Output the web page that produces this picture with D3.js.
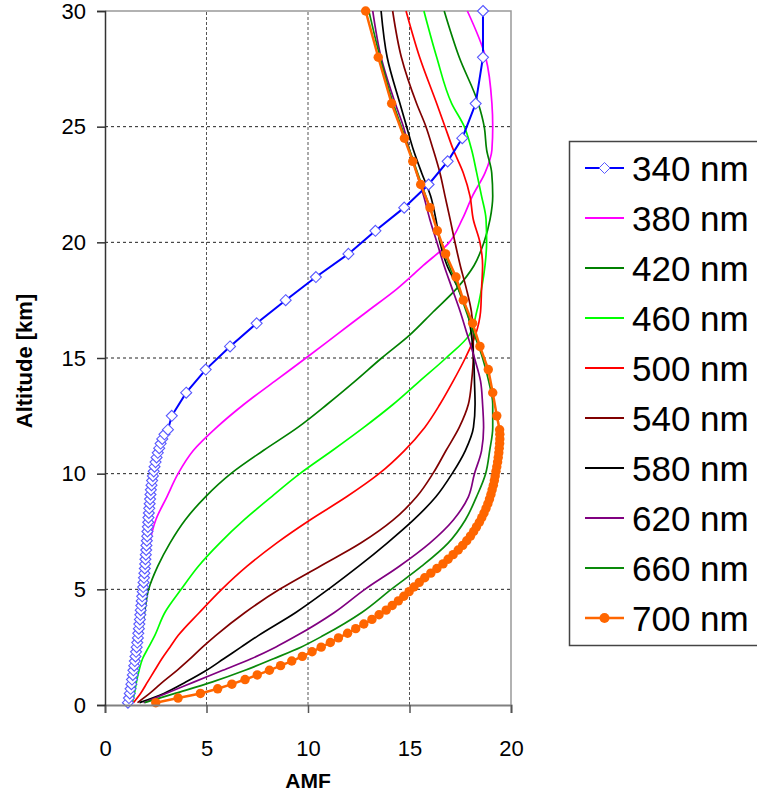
<!DOCTYPE html>
<html><head><meta charset="utf-8">
<script src="https://cdnjs.cloudflare.com/ajax/libs/d3/7.8.5/d3.min.js"></script>
<style>body{margin:0;background:#fff}svg{display:block}text{font-family:Arial,"Liberation Sans",sans-serif}</style>
</head><body>
<script>
// ---------- DATA ----------
const seriesNames = ["340 nm","380 nm","420 nm","460 nm","500 nm","540 nm","580 nm","620 nm","660 nm","700 nm"];
const xTicks = [0,5,10,15,20];
const yTicks = [0,5,10,15,20,25,30];

// altitude grid of the marker series (km)
const altMarker = [0.1,0.3,0.5,0.7,0.9,1.1,1.3,1.5,1.7,1.9,2.1,2.3,2.5,2.7,2.9,3.1,3.3,3.5,3.7,3.9,
  4.1,4.3,4.5,4.7,4.9,5.1,5.3,5.5,5.7,5.9,6.1,6.3,6.5,6.7,6.9,7.1,7.3,7.5,7.7,7.9,
  8.1,8.3,8.5,8.7,8.9,9.1,9.3,9.5,9.7,9.9,10.1,10.3,10.5,10.7,10.9,11.1,11.3,11.5,11.7,11.9,
  12.5,13.5,14.5,15.5,16.5,17.5,18.5,19.5,20.5,21.5,22.5,23.5,24.5,26,28,30];
// altitude grid used for the plain line series (km)
const altLine = [0.1,0.5,1,1.5,2,2.5,3,4,5,6,7,8,9,10,11,12,13,14,15,16,17,18,19,20,21,22,23,24,25,26,28,30];

const amf340 = [1.13,1.18,1.22,1.26,1.30,1.33,1.37,1.40,1.44,1.47,1.50,1.53,1.56,1.59,1.62,1.64,1.67,1.69,1.72,1.74,
  1.76,1.79,1.81,1.83,1.86,1.88,1.90,1.92,1.94,1.96,1.98,1.99,2.01,2.03,2.04,2.06,2.08,2.09,2.11,2.13,
  2.14,2.16,2.18,2.20,2.22,2.24,2.26,2.29,2.32,2.36,2.40,2.44,2.49,2.54,2.60,2.67,2.74,2.82,2.93,3.10,
  3.29,4.00,4.96,6.16,7.47,8.90,10.39,11.99,13.32,14.74,15.94,16.88,17.60,18.26,18.62,18.62];
const amf700 = [2.5,3.6,4.7,5.55,6.25,6.9,7.5,8.1,8.65,9.2,9.72,10.2,10.65,11.1,11.5,11.95,12.35,12.75,13.15,13.5,
  13.85,14.15,14.45,14.72,14.98,15.22,15.48,15.75,16.05,16.35,16.65,16.9,17.15,17.4,17.62,17.82,18.0,18.16,18.3,18.44,
  18.56,18.67,18.77,18.86,18.94,19.01,19.07,19.13,19.18,19.22,19.26,19.3,19.34,19.37,19.4,19.42,19.44,19.45,19.45,19.44,
  19.3,19.1,18.88,18.47,18.11,17.65,17.29,16.78,16.37,16.01,15.55,15.16,14.75,14.12,13.46,12.84];

const amf380 = [1.2,1.3,1.4,1.48,1.56,1.63,1.7,1.82,1.95,2.05,2.2,2.5,3.05,3.6,4.35,5.5,6.85,8.37,9.9,11.4,12.9,14.4,15.68,16.96,17.6,18.1,18.72,19.06,19.1,19.06,18.75,17.85];
const amf420 = [1.3,1.38,1.47,1.55,1.63,1.7,1.78,1.95,2.15,2.6,3.2,3.95,4.95,6.2,7.8,9.5,10.95,12.32,13.63,15.02,16.17,17.32,18.18,18.67,18.97,19.1,19.05,18.8,18.68,18.39,17.45,16.71];
const amf460 = [1.35,1.45,1.55,1.68,1.85,2.15,2.45,2.95,3.75,4.6,5.65,6.85,8.2,9.6,11.2,12.75,14.2,15.5,16.8,17.95,18.31,18.55,18.72,18.8,18.77,18.55,18.31,18.06,17.7,17.08,16.34,15.71];
const amf500 = [1.4,1.75,2.1,2.45,2.8,3.2,3.6,4.65,5.75,7.0,8.45,10.1,11.9,13.5,14.75,15.75,16.5,17.15,17.75,18.25,18.5,18.55,18.6,18.47,18.14,17.98,17.65,17.16,16.75,16.34,15.5,14.83];
const amf540 = [1.6,2.2,2.85,3.55,4.2,4.8,5.45,6.9,8.6,10.6,12.6,14.2,15.35,16.15,16.8,17.45,17.9,18.06,18.14,18.14,18.05,17.8,17.5,17.24,17.0,16.75,16.5,16.17,15.81,15.35,14.6,14.17];
const amf580 = [1.7,2.9,4.0,5.0,5.85,6.7,7.55,9.4,11.0,12.5,13.9,15.2,16.3,17.1,17.75,18.15,18.23,18.2,18.16,18.05,17.85,17.4,16.85,16.5,16.3,16.04,15.6,15.19,14.86,14.53,13.9,13.6];
const amf620 = [1.9,3.0,4.4,5.8,7.2,8.4,9.45,11.3,12.8,14.5,16.0,17.16,17.9,18.2,18.55,18.65,18.6,18.5,18.2,17.85,17.5,17.1,16.7,16.35,16.0,15.7,15.35,15.0,14.7,14.3,13.6,13.19];
const amf660 = [1.95,3.45,5.3,6.9,8.3,9.65,10.75,12.65,14.1,15.6,16.9,17.75,18.3,18.75,18.95,19.1,19.1,18.9,18.6,18.2,17.8,17.4,16.95,16.55,16.2,15.8,15.4,15.0,14.6,14.2,13.55,13.0];

const colors = ["#0000FF","#FF00FF","#008000","#00FF00","#FF0000","#800000","#000000","#800080","#0A8A0A","#FF6600"];

// ---------- CHART ----------
const W = 757, H = 794;
const svg = d3.select("body").append("svg").attr("width", W).attr("height", H);
const x = d3.scaleLinear().domain([0, 20]).range([105, 511]);
const y = d3.scaleLinear().domain([0, 30]).range([705, 11]);

// grid
const g = svg.append("g");
g.selectAll(".hg").data(yTicks.filter(t => t > 0 && t < 30)).join("line")
  .attr("x1", x(0)).attr("x2", x(20)).attr("y1", d => y(d)).attr("y2", d => y(d))
  .attr("stroke", "#222").attr("stroke-width", 1).attr("stroke-dasharray", "3,3");
g.selectAll(".vg").data(xTicks.filter(t => t > 0 && t < 20)).join("line")
  .attr("y1", y(0)).attr("y2", y(30)).attr("x1", d => x(d)).attr("x2", d => x(d))
  .attr("stroke", "#555").attr("stroke-width", 1).attr("stroke-dasharray", "3,2");
// top & right border
svg.append("path").attr("d", `M${x(0)},${y(30)}H${x(20)}V${y(0)}`)
  .attr("fill", "none").attr("stroke", "#999").attr("stroke-width", 1.5);

const lineGen = d3.line().x(d => x(d[1])).y(d => y(d[0]));
const plain = [[amf380,1],[amf420,2],[amf460,3],[amf500,4],[amf540,5],[amf580,6],[amf620,7],[amf660,8]];
const lines = svg.append("g");
plain.forEach(([vals, ci]) => {
  const pts = altLine.map((a, i) => [a, vals[i]]);
  lines.append("path").attr("d", lineGen.curve(d3.curveMonotoneY)(pts))
    .attr("fill", "none").attr("stroke", colors[ci]).attr("stroke-width", 1.7);
});
lineGen.curve(d3.curveLinear);

// 340 nm with diamonds
const p340 = altMarker.map((a, i) => [a, amf340[i]]);
svg.append("path").attr("d", lineGen(p340)).attr("fill", "none").attr("stroke", colors[0]).attr("stroke-width", 2);
const diamond = "M0,-5.5L5.5,0L0,5.5L-5.5,0Z";
svg.append("g").selectAll("path").data(p340).join("path")
  .attr("transform", d => `translate(${x(d[1])},${y(d[0])})`).attr("d", diamond)
  .attr("fill", "#fff").attr("stroke", "#5858FF").attr("stroke-width", 1.1);

// 700 nm with circles
const p700 = altMarker.map((a, i) => [a, amf700[i]]);
svg.append("path").attr("d", lineGen(p700)).attr("fill", "none").attr("stroke", colors[9]).attr("stroke-width", 2.5);
svg.append("g").selectAll("circle").data(p700).join("circle")
  .attr("cx", d => x(d[1])).attr("cy", d => y(d[0])).attr("r", 4.7).attr("fill", colors[9]);

// axes
const xAxis = svg.append("g").attr("transform", `translate(0,${y(0)})`)
  .call(d3.axisBottom(x).tickValues(xTicks).tickSize(8).tickPadding(27).tickFormat(d3.format("d")));
xAxis.select(".domain").attr("stroke", "#808080").attr("stroke-width", 2);
xAxis.selectAll(".tick line").attr("stroke", "#555").attr("stroke-width", 1.5);
xAxis.selectAll("text").attr("font-size", 22).attr("fill", "#000").attr("font-family", "Arial, 'Liberation Sans', sans-serif");

const yAxis = svg.append("g").attr("transform", `translate(${x(0)},0)`)
  .call(d3.axisLeft(y).tickValues(yTicks).tickSize(8).tickPadding(11).tickFormat(d3.format("d")));
yAxis.select(".domain").attr("stroke", "#333").attr("stroke-width", 1.5);
yAxis.selectAll(".tick line").attr("stroke", "#333").attr("stroke-width", 1.5);
yAxis.selectAll("text").attr("font-size", 22).attr("fill", "#000").attr("font-family", "Arial, 'Liberation Sans', sans-serif");

// axis titles
svg.append("text").attr("x", 308).attr("y", 788).attr("text-anchor", "middle")
  .attr("font-size", 21).attr("font-weight", "bold").text("AMF");
svg.append("text").attr("transform", "translate(32,361) rotate(-90)").attr("text-anchor", "middle")
  .attr("font-size", 22).attr("font-weight", "bold").text("Altitude [km]");

// legend
const lg = svg.append("g");
lg.append("rect").attr("x", 569.5).attr("y", 141.5).attr("width", 200).attr("height", 504)
  .attr("fill", "#fff").attr("stroke", "#444").attr("stroke-width", 1.5);
seriesNames.forEach((name, i) => {
  const cy = 168 + i * 50;
  lg.append("line").attr("x1", 585).attr("x2", 624).attr("y1", cy).attr("y2", cy)
    .attr("stroke", colors[i]).attr("stroke-width", i === 9 ? 2.5 : 2);
  if (i === 0) lg.append("path").attr("transform", `translate(604.5,${cy})`).attr("d", diamond)
    .attr("fill", "#fff").attr("stroke", "#5858FF");
  if (i === 9) lg.append("circle").attr("cx", 604.5).attr("cy", cy).attr("r", 5).attr("fill", colors[9]);
  lg.append("text").attr("x", 632).attr("y", cy + 12.5).attr("font-size", 35).attr("fill", "#000").text(name);
});
</script>
</body></html>
